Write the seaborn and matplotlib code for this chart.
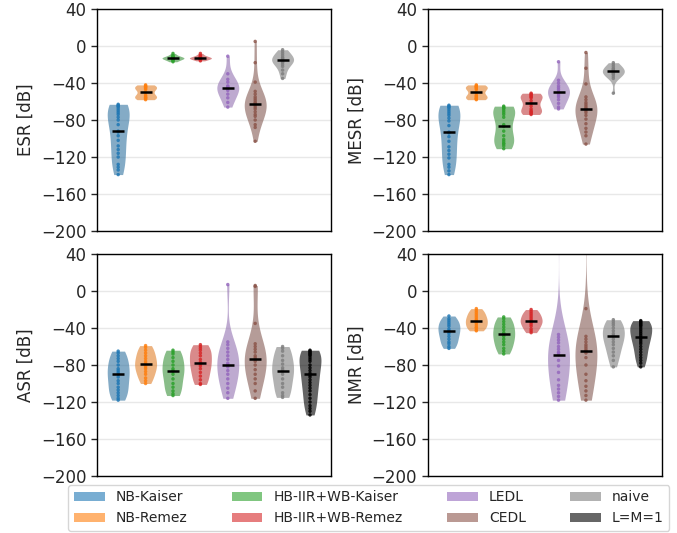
import numpy as np
import pandas as pd
import seaborn as sns
import matplotlib.pyplot as plt
from matplotlib.patches import Patch

methods = ["NB-Kaiser", "NB-Remez", "HB-IIR+WB-Kaiser", "HB-IIR+WB-Remez",
           "LEDL", "CEDL", "naive", "L=M=1"]
colors = ["#1f77b4", "#ff7f0e", "#2ca02c", "#d62728",
          "#9467bd", "#8c564b", "#7f7f7f", "#000000"]
metrics = ["ESR", "MESR", "ASR", "NMR"]

# values in dB
esr = {
    "NB-Kaiser": [-63, -64, -65, -66, -68, -70, -72, -74, -77, -80, -85, -92, -93, -97,
                  -102, -108, -112, -116, -120, -128, -131, -134, -139],
    "NB-Remez": [-42, -43, -44, -44, -45, -46, -47, -50, -53, -54, -55, -56, -56, -57, -58],
    "HB-IIR+WB-Kaiser": [-8, -10, -11, -12, -12, -13, -13, -13, -14, -14, -15, -16, -17],
    "HB-IIR+WB-Remez": [-8, -10, -11, -12, -12, -13, -13, -13, -14, -14, -15, -16],
    "LEDL": [-11, -30, -36, -39, -43, -44, -45, -46, -48, -52, -56, -61, -66],
    "CEDL": [5, -18, -39, -49, -52, -55, -57, -59, -61, -62, -63, -64, -66, -68, -71,
             -74, -76, -80, -85, -88, -103],
    "naive": [-4, -6, -8, -10, -12, -13, -14, -15, -16, -17, -18, -20, -22, -26, -30, -35],
}
mesr = {
    "NB-Kaiser": [-64, -65, -66, -67, -69, -71, -73, -75, -78, -81, -86, -93, -94, -98,
                  -103, -109, -113, -117, -121, -128, -131, -135, -139],
    "NB-Remez": [-42, -43, -44, -44, -45, -46, -47, -50, -53, -54, -55, -56, -57, -57, -58],
    "HB-IIR+WB-Kaiser": [-65, -66, -67, -68, -70, -72, -74, -77, -85, -87, -92, -97, -101,
                         -103, -105, -106, -108, -111],
    "HB-IIR+WB-Remez": [-51, -52, -53, -54, -55, -56, -59, -62, -65, -68, -70, -71, -72, -73, -74],
    "LEDL": [-17, -37, -40, -43, -45, -47, -49, -50, -51, -53, -55, -58, -62, -66, -68],
    "CEDL": [-7, -24, -41, -55, -58, -61, -63, -65, -67, -68, -70, -72, -75, -79, -84,
             -89, -93, -97, -106],
    "naive": [-18, -20, -22, -24, -25, -26, -27, -28, -29, -30, -31, -33, -35, -51],
}
asr = {
    "NB-Kaiser": [-65, -67, -70, -73, -76, -80, -84, -86, -88, -90, -93, -97, -100, -104,
                  -107, -110, -113, -116, -118],
    "NB-Remez": [-59, -61, -64, -67, -70, -73, -76, -78, -80, -82, -84, -87, -90, -94, -97, -100],
    "HB-IIR+WB-Kaiser": [-64, -66, -68, -72, -76, -80, -84, -86, -87, -90, -95, -100, -104,
                         -108, -111, -113],
    "HB-IIR+WB-Remez": [-58, -60, -62, -64, -67, -70, -74, -77, -79, -81, -84, -88, -92,
                        -96, -100, -101],
    "LEDL": [7, -55, -58, -62, -66, -70, -74, -78, -80, -82, -86, -90, -95, -100, -105, -110, -116],
    "CEDL": [6, 5, -35, -57, -60, -63, -66, -70, -72, -74, -76, -80, -85, -90, -95, -100,
             -108, -116],
    "naive": [-60, -62, -65, -70, -75, -79, -83, -85, -87, -90, -95, -100, -104, -110, -113, -115],
    "L=M=1": [-64, -65, -66, -67, -68, -69, -70, -72, -74, -76, -80, -83, -86, -89, -91, -93,
              -96, -99, -102, -105, -108, -112, -116, -120, -124, -127, -130, -134],
}
nmr = {
    "NB-Kaiser": [-27, -30, -32, -34, -36, -38, -41, -43, -44, -46, -49, -52, -55, -57, -60, -62],
    "NB-Remez": [-19, -21, -23, -25, -27, -29, -31, -32, -33, -35, -37, -39, -40, -42, -43],
    "HB-IIR+WB-Kaiser": [-28, -30, -33, -36, -39, -42, -45, -47, -49, -52, -55, -58, -62, -65, -68],
    "HB-IIR+WB-Remez": [-20, -22, -24, -26, -28, -30, -32, -33, -34, -36, -38, -41, -43, -45],
    "LEDL": [90, -47, -50, -53, -56, -60, -63, -66, -67, -69, -75, -81, -88, -96, -102,
             -106, -110, -114, -118],
    "CEDL": [90, -19, -49, -52, -55, -58, -60, -62, -64, -65, -67, -72, -80, -90, -97,
             -103, -108, -113, -118],
    "naive": [-31, -33, -35, -37, -40, -43, -46, -48, -49, -52, -55, -58, -62, -66, -70, -75, -82],
    "L=M=1": [-32, -33, -34, -35, -36, -37, -38, -40, -42, -44, -46, -48, -50, -51, -53, -55,
              -57, -60, -63, -66, -69, -72, -75, -78, -82],
}

rows = []
for metric, table in zip(metrics, [esr, mesr, asr, nmr]):
    for method, vals in table.items():
        for v in vals:
            rows.append({"metric": metric, "method": method, "value": v})
df = pd.DataFrame(rows)

sns.set_style("white")
plt.rcParams["font.family"] = ["DejaVu Sans"]
palette = dict(zip(methods, colors))

fig, axes = plt.subplots(2, 2, figsize=(6.77, 5.33), dpi=100)
fig.subplots_adjust(left=0.143, right=0.978, top=0.983, bottom=0.107,
                    wspace=0.41, hspace=0.104)

for ax, metric in zip(axes.flat, metrics):
    d = df[df["metric"] == metric]
    sns.violinplot(data=d, x="method", y="value", hue="method", order=methods,
                   hue_order=methods, palette=palette, inner=None, cut=0,
                   density_norm="width", width=0.8, linewidth=0,
                   alpha=0.6, legend=False, ax=ax)
    sns.stripplot(data=d, x="method", y="value", hue="method", order=methods,
                  hue_order=methods, palette=palette, jitter=False, size=2.5,
                  alpha=0.85, legend=False, ax=ax)
    sns.pointplot(data=d, x="method", y="value", order=methods, estimator=np.median,
                  errorbar=None, color="black", marker="_", markersize=9,
                  markeredgewidth=1.8, linestyle="none", zorder=10, ax=ax)
    ax.set_ylim(-200, 40)
    ax.set_yticks(np.arange(-200, 41, 40))
    ax.set_xlim(-0.78, 7.78)
    ax.set_xticks([])
    ax.set_xlabel("")
    ax.set_ylabel(metric + " [dB]", fontsize=12)
    ax.tick_params(axis="y", labelsize=12, length=4, width=1, left=True)
    ax.yaxis.grid(True, color="#e8e8e8", linewidth=1)
    ax.set_axisbelow(True)
    for s in ax.spines.values():
        s.set_color("black")
        s.set_linewidth(1)

handles = [Patch(facecolor=c, alpha=0.6, edgecolor="none", label=m)
           for m, c in zip(methods, colors)]
fig.legend(handles=handles, ncol=4, loc="lower center",
           bbox_to_anchor=(0.545, 0.0), borderaxespad=0.15, fontsize=10,
           handlelength=2.2, columnspacing=3.2, frameon=True)

fig.savefig("out.png", dpi=100)
